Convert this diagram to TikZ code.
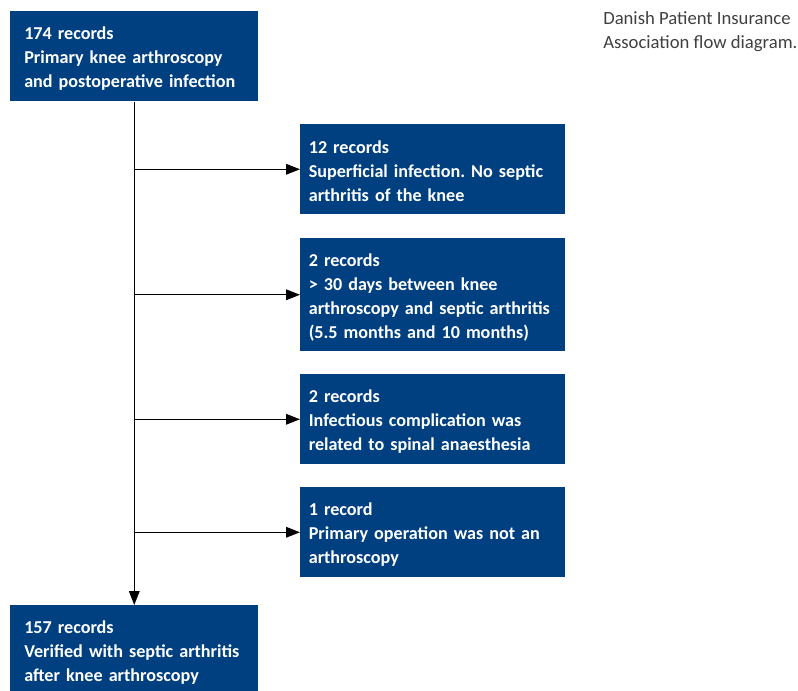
\documentclass[tikz,border=0pt]{standalone}
\usepackage{fontspec}
\setmainfont{Carlito}
\usepackage{tikz}
\usetikzlibrary{positioning,arrows.meta}
\definecolor{dpiablue}{RGB}{0,64,128}
\definecolor{notegray}{RGB}{64,64,64}

\begin{document}
\frenchspacing
\begin{tikzpicture}[x=0.75pt,y=-0.75pt,
  recbox/.style={fill=dpiablue,text=white,font=\fontsize{13.6}{18}\selectfont\bfseries,
    align=left,anchor=north west,inner ysep=0pt,execute at begin node={\rule{0pt}{13pt}}},
  mainbox/.style={recbox,minimum width=186pt,text width=165pt,inner xsep=10.5pt},
  sidebox/.style={recbox,minimum width=198.75pt,text width=186pt,inner xsep=6.4pt},
  flow/.style={line width=0.9pt,-{Triangle[length=10.5pt,width=8pt]}}]
\useasboundingbox (0,0) rectangle (798,691);
% main boxes
\node[mainbox,minimum height=67.5pt] (start) at (10,11)
  {174 records\\Primary knee arthroscopy\\and postoperative infection};
\node[mainbox,minimum height=67.5pt] (final) at (10,605)
  {157 records\\Verified with septic arthritis\\after knee arthroscopy};
% excluded records
\node[sidebox,minimum height=67.5pt] (excl1) at (300,124)
  {12 records\\Superficial infection. No septic\\arthritis of the knee};
\node[sidebox,minimum height=84.75pt] (excl2) at (300,238)
  {2 records\\> 30 days between knee\\arthroscopy and septic arthritis\\(5.5 months and 10 months)};
\node[sidebox,minimum height=67.5pt] (excl3) at (300,374)
  {2 records\\Infectious complication was\\related to spinal anaesthesia};
\node[sidebox,minimum height=67.5pt] (excl4) at (300,487)
  {1 record\\Primary operation was not an\\arthroscopy};
% note
\node[anchor=north west,align=left,text=notegray,font=\fontsize{14}{18}\selectfont,inner sep=0pt]
  (note) at (603,11) {Danish Patient Insurance\\Association flow diagram.};
% arrows
\draw[flow] (start.south) -- (final.north);
\foreach \b in {excl1,excl2,excl3,excl4}{
  \coordinate (t-\b) at (start.south |- \b.west);
  \draw[flow] (t-\b) -- (\b.west);
}
\end{tikzpicture}
\end{document}
